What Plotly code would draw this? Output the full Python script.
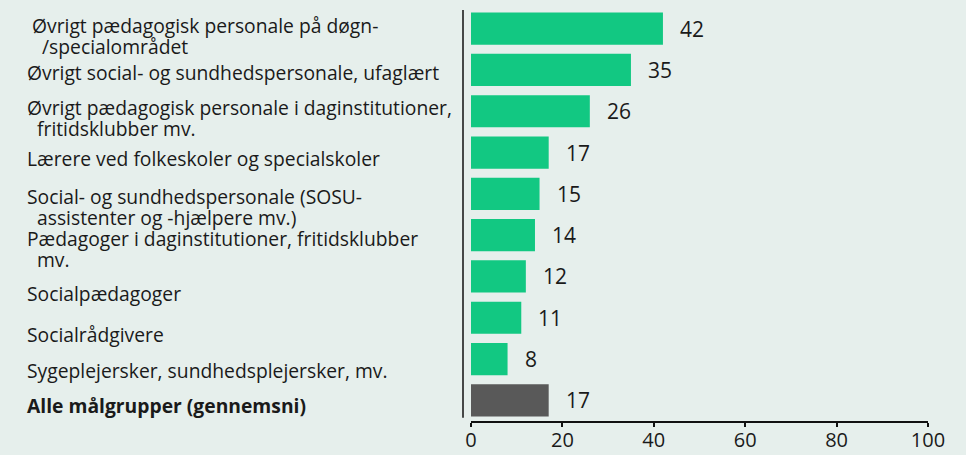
import plotly.graph_objects as go

categories = [
    "Øvrigt pædagogisk personale på døgn-<br>\u00a0\u00a0/specialområdet",
    "Øvrigt social- og sundhedspersonale, ufaglært",
    "Øvrigt pædagogisk personale i daginstitutioner,<br>\u00a0\u00a0fritidsklubber mv.",
    "Lærere ved folkeskoler og specialskoler",
    "Social- og sundhedspersonale (SOSU-<br>\u00a0\u00a0assistenter og -hjælpere mv.)",
    "Pædagoger i daginstitutioner, fritidsklubber<br>\u00a0\u00a0mv.",
    "Socialpædagoger",
    "Socialrådgivere",
    "Sygeplejersker, sundhedsplejersker, mv.",
    "<b>Alle målgrupper (gennemsni)</b>",
]
values = [42, 35, 26, 17, 15, 14, 12, 11, 8, 17]
x_ticks = [0, 20, 40, 60, 80, 100]

GREEN = "#12c882"
GRAY = "#595959"
BG = "#e6efec"
TXT = "#1a1a1a"
FONT = "Open Sans"

bar_colors = [GREEN] * (len(values) - 1) + [GRAY]
ids = list(range(len(categories)))
# vertical offset (px, downward) of each label's first line relative to its bar centre
label_shift = [-3, 2.5, -3.5, 5.5, 2.5, 3.5, 17.5, 16.5, 11.5, 5]
label_indent = [0.011, 0, 0, 0, 0, 0, 0, 0, 0, 0]
LINE_H = 21

fig = go.Figure()
fig.add_trace(go.Bar(
    x=values, y=ids, orientation="h",
    marker=dict(color=bar_colors, line=dict(width=0)),
    width=0.78, hoverinfo="skip",
))

annotations = []
for i, (c, v) in enumerate(zip(categories, values)):
    annotations.append(dict(
        x=v, y=i, xref="x", yref="y", text=str(v), showarrow=False,
        xanchor="left", yanchor="middle", xshift=15,
        font=dict(family=FONT, size=21, color=TXT),
    ))
    for j, line in enumerate(c.split("<br>")):
        annotations.append(dict(
            x=-0.976 + label_indent[i], y=i, xref="paper", yref="y", text=line,
            showarrow=False, xanchor="left", yanchor="middle", align="left",
            yshift=-(label_shift[i] + j * LINE_H),
            font=dict(family=FONT, size=19.3, color=TXT),
        ))

fig.update_layout(
    width=966, height=455,
    margin=dict(l=471, r=38, t=8, b=34, autoexpand=False),
    paper_bgcolor=BG, plot_bgcolor=BG,
    showlegend=False,
    annotations=annotations,
    xaxis=dict(
        range=[0, 100], tickvals=x_ticks, ticktext=[str(t) for t in x_ticks],
        showgrid=False, zeroline=False, showline=True, linecolor="#111",
        linewidth=2, ticks="outside", ticklen=4, tickwidth=2, tickcolor="#111",
        tickfont=dict(family=FONT, size=20, color=TXT),
        ticklabelstandoff=-4,
        fixedrange=True, automargin=False,
    ),
    yaxis=dict(
        range=[len(values) - 0.5, -0.5], showticklabels=False,
        showgrid=False, zeroline=False, showline=False, fixedrange=True,
        automargin=False,
    ),
    shapes=[dict(
        type="line", xref="paper", yref="paper",
        x0=-0.0175, x1=-0.0175, y0=0.008, y1=0.995,
        line=dict(color="#111", width=1.5),
    )],
)

fig.write_html(
    "out.html",
    config={"displayModeBar": False},
    post_script="document.body.style.margin='0';document.body.style.background='%s';" % BG,
)
